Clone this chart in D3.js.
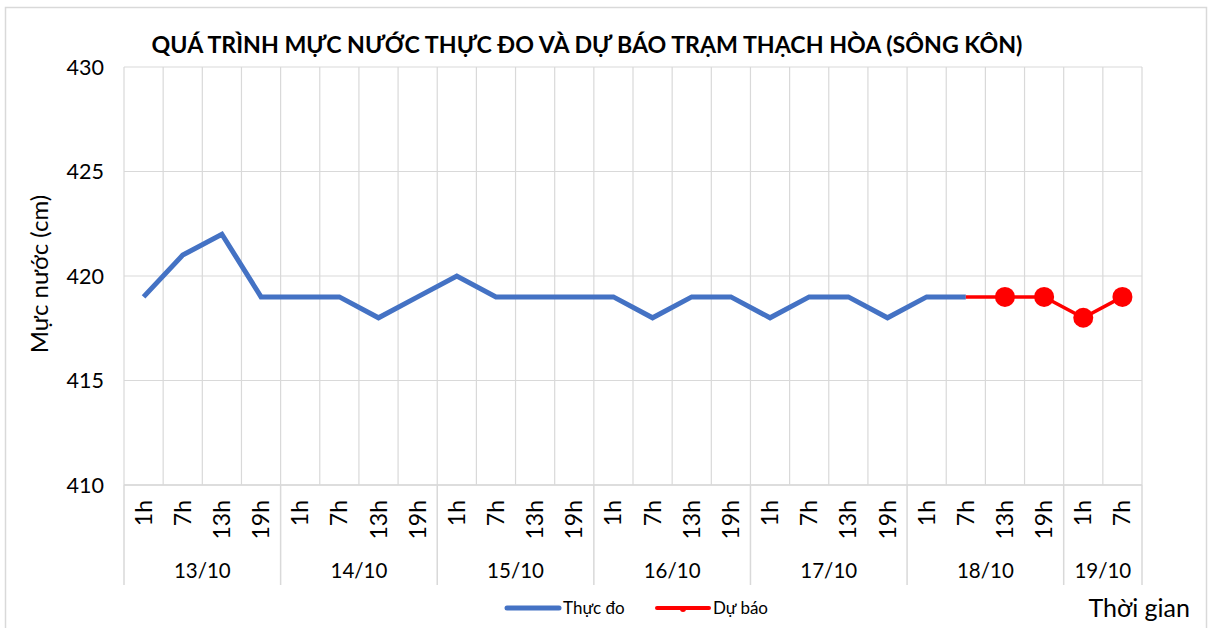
<!DOCTYPE html>
<html>
<head>
<meta charset="utf-8">
<script src="https://cdn.jsdelivr.net/npm/d3@7"></script>
<style>
  body{margin:0;background:#fff}
  svg{display:block;font-family:Lato,"Open Sans",sans-serif}
</style>
</head>
<body>
<svg id="chart" width="1214" height="628"></svg>
<script>
// data
const days = ['13/10','14/10','15/10','16/10','17/10','18/10','19/10']
const hoursPerDay = [
  ['1h','7h','13h','19h'],['1h','7h','13h','19h'],['1h','7h','13h','19h'],
  ['1h','7h','13h','19h'],['1h','7h','13h','19h'],['1h','7h','13h','19h'],['1h','7h']
]
const observed = [419,421,422,419, 419,419,418,419, 420,419,419,419, 419,418,419,419, 418,419,419,418, 419,419]
// forecast starts at 18/10 7h (index 21)
const forecastStart = 21
const forecast = [419,419,419,418,419]
const yTicks = [410,415,420,425,430]

const cats = []
days.forEach((d,i)=>hoursPerDay[i].forEach(h=>cats.push({key:d+' '+h, day:d, hour:h})))

const svg = d3.select('#chart')
const m = {left:124, top:67, right:1142, bottom:485}
const x = d3.scaleBand().domain(cats.map(c=>c.key)).range([m.left,m.right])
const y = d3.scaleLinear().domain([410,430]).range([m.bottom,m.top])
const grid = '#d9d9d9'

// outer frame
svg.append('rect').attr('x',5.5).attr('y',7.5).attr('width',1201).attr('height',640)
  .attr('fill','none').attr('stroke',grid).attr('stroke-width',1.5)

// title
svg.append('text').attr('x',587).attr('y',53).attr('text-anchor','middle')
  .attr('font-size',23.2).attr('font-weight','bold').attr('fill','#000')
  .text('QUÁ TRÌNH MỰC NƯỚC THỰC ĐO VÀ DỰ BÁO TRẠM THẠCH HÒA (SÔNG KÔN)')

// horizontal grid
svg.append('g').selectAll('line').data(yTicks).join('line')
  .attr('x1',m.left).attr('x2',m.right).attr('y1',d=>y(d)).attr('y2',d=>y(d))
  .attr('stroke',grid).attr('stroke-width',1.2)

// vertical grid at category boundaries
const bounds = cats.map(c=>x(c.key)).concat([m.right])
svg.append('g').selectAll('line').data(bounds).join('line')
  .attr('x1',d=>d).attr('x2',d=>d).attr('y1',m.top).attr('y2',m.bottom)
  .attr('stroke',grid).attr('stroke-width',1.2)

// multi-level category axis
const dayBounds = []
let idx = 0
days.forEach((d,i)=>{ dayBounds.push({day:d, start:x(cats[idx].key), end: idx+hoursPerDay[i].length<cats.length ? x(cats[idx+hoursPerDay[i].length].key) : m.right}); idx += hoursPerDay[i].length })
const ax = svg.append('g')
ax.append('line').attr('x1',m.left).attr('x2',m.right).attr('y1',m.bottom).attr('y2',m.bottom).attr('stroke',grid).attr('stroke-width',1.5)
ax.selectAll('line.sep').data([m.left].concat(dayBounds.map(d=>d.end))).join('line').attr('class','sep')
  .attr('x1',d=>d).attr('x2',d=>d).attr('y1',m.bottom).attr('y2',585)
  .attr('stroke',grid).attr('stroke-width',1.5)
ax.selectAll('text.hr').data(cats).join('text').attr('class','hr')
  .attr('transform',c=>`translate(${x(c.key)+x.bandwidth()/2+8},${500}) rotate(-90)`)
  .attr('text-anchor','end').attr('font-size',23).attr('fill','#000').text(c=>c.hour)
ax.selectAll('text.day').data(dayBounds).join('text').attr('class','day')
  .attr('x',d=>(d.start+d.end)/2).attr('y',578).attr('text-anchor','middle')
  .attr('font-size',20.5).attr('fill','#000').text(d=>d.day)

// y ticks
svg.append('g').selectAll('text').data(yTicks).join('text')
  .attr('x',104).attr('y',d=>y(d)+7.5).attr('text-anchor','end')
  .attr('font-size',21.5).attr('fill','#000').text(d=>d)

svg.append('text').attr('transform','translate(48,274) rotate(-90)').attr('text-anchor','middle')
  .attr('font-size',24).attr('fill','#000').text('Mực nước (cm)')

svg.append('text').attr('x',1190).attr('y',617).attr('text-anchor','end')
  .attr('font-size',25).attr('fill','#000').text('Thời gian')

// series
const line = d3.line().x(d=>x(d.key)+x.bandwidth()/2).y(d=>y(d.v))
const obsPts = observed.map((v,i)=>({key:cats[i].key, v}))
const fcPts = forecast.map((v,i)=>({key:cats[forecastStart+i].key, v}))

svg.append('path').datum(obsPts).attr('d',line).attr('fill','none')
  .attr('stroke','#4472c4').attr('stroke-width',5).attr('stroke-linejoin','miter')
svg.append('path').datum(fcPts).attr('d',line).attr('fill','none')
  .attr('stroke','#ff0000').attr('stroke-width',3.5)
svg.append('g').selectAll('circle').data(fcPts.slice(1)).join('circle')
  .attr('cx',d=>x(d.key)+x.bandwidth()/2).attr('cy',d=>y(d.v)).attr('r',10).attr('fill','#ff0000')

// legend
const lg = svg.append('g').attr('font-size',17).attr('fill','#000')
lg.append('line').attr('x1',507).attr('x2',559).attr('y1',608).attr('y2',608).attr('stroke','#4472c4').attr('stroke-width',5).attr('stroke-linecap','round')
lg.append('text').attr('x',563).attr('y',614).text('Thực đo')
lg.append('line').attr('x1',657).attr('x2',709).attr('y1',608).attr('y2',608).attr('stroke','#ff0000').attr('stroke-width',4).attr('stroke-linecap','round')
lg.append('circle').attr('cx',683).attr('cy',609).attr('r',3).attr('fill','#ff0000')
lg.append('text').attr('x',713).attr('y',614).text('Dự báo')
</script>
</body>
</html>
